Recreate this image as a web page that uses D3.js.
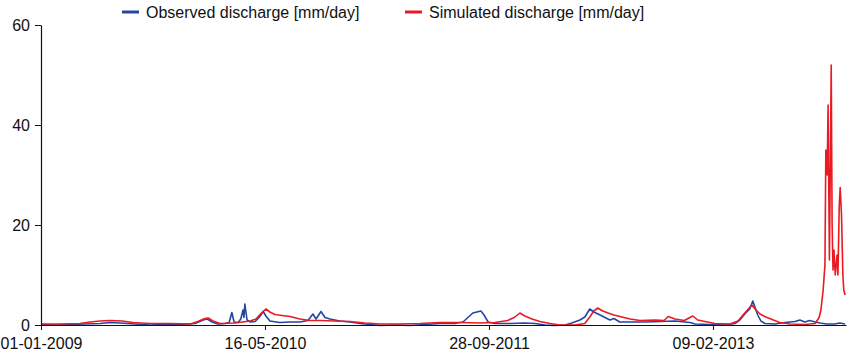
<!DOCTYPE html>
<html>
<head>
<meta charset="utf-8">
<script src="https://cdn.jsdelivr.net/npm/d3@7"></script>
<style>
  body { margin: 0; background: #fff; }
  #chart { width: 856px; height: 355px; }
  text { font-family: "Liberation Sans", Arial, sans-serif; fill: #111; }
</style>
</head>
<body>
<div id="chart"></div>
<script>
// days since 01-01-2009, values in mm/day
let obsDays = [0, 31, 65, 98, 132, 154, 176, 210, 243, 277, 310, 344, 362, 371, 382, 395, 411, 420, 426, 431,
    440, 446, 451, 453, 455, 460, 467, 478, 487, 496, 502, 511, 533, 556, 578, 596, 607, 614, 625, 634,
    645, 667, 690, 712, 734, 757, 790, 824, 857, 891, 924, 942, 953, 964, 973, 982, 989, 998, 1013, 1047,
    1080, 1103, 1125, 1147, 1170, 1185, 1203, 1214, 1225, 1234, 1248, 1259, 1270, 1279, 1292, 1315, 1348, 1382, 1415, 1449,
    1460, 1493, 1527, 1549, 1560, 1571, 1582, 1589, 1594, 1600, 1607, 1616, 1638, 1661, 1683, 1694, 1705, 1716, 1728, 1739,
    1754, 1772, 1783, 1795];
let obsQ = [0.1, 0.0, 0.1, 0.2, 0.3, 0.5, 0.4, 0.2, 0.0, 0.1, 0.1, 0.3, 1.0, 1.2, 0.6, 0.2, 0.3, 0.5, 2.5, 0.6,
    0.5, 1.2, 3.0, 1.5, 4.2, 1.0, 0.6, 0.7, 1.5, 2.7, 1.8, 0.8, 0.5, 0.6, 0.6, 0.9, 2.2, 1.2, 2.7, 1.5,
    1.2, 0.8, 0.6, 0.3, 0.1, -0.1, 0.0, -0.1, 0.1, 0.3, 0.3, 0.6, 1.5, 2.4, 2.6, 2.8, 2.0, 0.6, 0.3, 0.3,
    0.4, 0.3, 0.0, -0.1, 0.0, 0.4, 1.0, 1.6, 3.2, 2.6, 2.0, 1.5, 1.0, 1.3, 0.6, 0.6, 0.6, 0.7, 0.8, 0.5,
    0.2, 0.1, 0.0, 0.3, 1.0, 2.2, 3.2, 4.8, 3.5, 2.0, 0.8, 0.3, 0.2, 0.5, 0.7, 1.0, 0.6, 0.9, 0.6, 0.4,
    0.2, 0.2, 0.4, 0.2];

let simDays = [0, 42, 87, 109, 132, 154, 181, 205, 243, 288, 333, 350, 366, 373, 384, 400, 433, 467, 480, 491,
    502, 511, 522, 538, 556, 578, 600, 623, 656, 690, 723, 757, 801, 846, 891, 935, 980, 1013, 1042, 1058,
    1069, 1080, 1096, 1114, 1136, 1158, 1192, 1214, 1225, 1234, 1243, 1254, 1266, 1279, 1292, 1315, 1337, 1371, 1391, 1400,
    1415, 1436, 1455, 1466, 1482, 1504, 1538, 1556, 1569, 1580, 1587, 1596, 1605, 1618, 1632, 1649, 1672, 1705, 1728, 1737,
    1741, 1746, 1748, 1750, 1752, 1755, 1757, 1760, 1764, 1766, 1768, 1770, 1773, 1777, 1779, 1782, 1784, 1787, 1790, 1792,
    1795];
let simQ = [0.2, 0.2, 0.3, 0.6, 0.8, 0.9, 0.8, 0.5, 0.3, 0.3, 0.2, 0.7, 1.3, 1.4, 0.8, 0.3, 0.4, 0.8, 1.2, 2.3,
    3.2, 2.6, 2.1, 1.9, 1.7, 1.2, 0.9, 0.9, 0.8, 0.7, 0.4, 0.2, 0.2, 0.3, 0.5, 0.5, 0.4, 0.5, 0.9, 1.6,
    2.4, 1.8, 1.2, 0.7, 0.3, 0.0, 0.0, 0.3, 1.6, 2.8, 3.4, 2.8, 2.4, 2.0, 1.7, 1.2, 0.9, 1.0, 0.9, 1.7,
    1.2, 0.9, 1.8, 1.0, 0.7, 0.3, 0.2, 0.8, 2.2, 3.3, 4.0, 3.0, 2.2, 1.6, 1.1, 0.5, 0.2, 0.1, 0.3, 1.5,
    3.0, 7.0, 9.5, 12, 35, 30, 44, 13, 52, 20, 11, 15, 10, 14, 10, 24, 27.5, 22, 10, 7,
    6];

let startDate = new Date(2009, 0, 1),
    endDay = 1797,
    tickDays = [0, 500, 1000, 1500],
    yTicks = [0, 20, 40, 60];

let seriesNames = ['Observed discharge [mm/day]', 'Simulated discharge [mm/day]'],
    seriesColors = ['#2246a3', '#ea1a22'];

let width = 856, height = 355,
    margin = {top: 25, left: 41, bottom: 30, right: 10},
    plotHeight = height - margin.top - margin.bottom;

let svg = d3.select('#chart').append('svg')
    .attr('width', width)
    .attr('height', height);

let xScale = d3.scaleTime()
    .domain([startDate, d3.timeDay.offset(startDate, endDay)])
    .range([margin.left, 846]);

let yScale = d3.scaleLinear()
    .domain([0, 60])
    .range([margin.top + plotHeight, margin.top]);

let toPoints = (days, vals) => days.map((d, i) => ({date: d3.timeDay.offset(startDate, d), q: vals[i]}));

let line = d3.line()
    .x(d => xScale(d.date))
    .y(d => yScale(d.q));

let series = [toPoints(obsDays, obsQ), toPoints(simDays, simQ)];

svg.append('g')
    .selectAll('path')
    .data(series)
    .join('path')
    .attr('fill', 'none')
    .attr('stroke', (d, i) => seriesColors[i])
    .attr('stroke-width', 1.6)
    .attr('stroke-linejoin', 'round')
    .attr('d', line);

let xAxis = svg.append('g')
    .attr('transform', `translate(0, ${yScale(0)})`)
    .call(
        d3.axisBottom(xScale)
            .tickValues(tickDays.map(d => d3.timeDay.offset(startDate, d)))
            .tickFormat(d3.timeFormat('%d-%m-%Y'))
            .tickSize(5)
            .tickPadding(8)
            .tickSizeOuter(0)
    );

let yAxis = svg.append('g')
    .attr('transform', `translate(${margin.left}, 0)`)
    .call(
        d3.axisLeft(yScale)
            .tickValues(yTicks)
            .tickSize(6)
            .tickPadding(5)
            .tickSizeOuter(0)
    );

[xAxis, yAxis].forEach(ax => {
    ax.select('.domain').attr('stroke', '#111').attr('stroke-width', 1.2);
    ax.selectAll('.tick line').attr('stroke', '#111');
    ax.selectAll('.tick text').attr('font-size', 16).attr('fill', '#111')
        .attr('font-family', '"Liberation Sans", Arial, sans-serif');
});

let legend = svg.append('g');
let legendX = [122, 405];

seriesNames.forEach((name, i) => {
    legend.append('line')
        .attr('x1', legendX[i]).attr('x2', legendX[i] + 17)
        .attr('y1', 12).attr('y2', 12)
        .attr('stroke', seriesColors[i])
        .attr('stroke-width', 3);
    legend.append('text')
        .attr('x', legendX[i] + 24)
        .attr('y', 18)
        .attr('font-size', 16)
        .text(name);
});
</script>
</body>
</html>
